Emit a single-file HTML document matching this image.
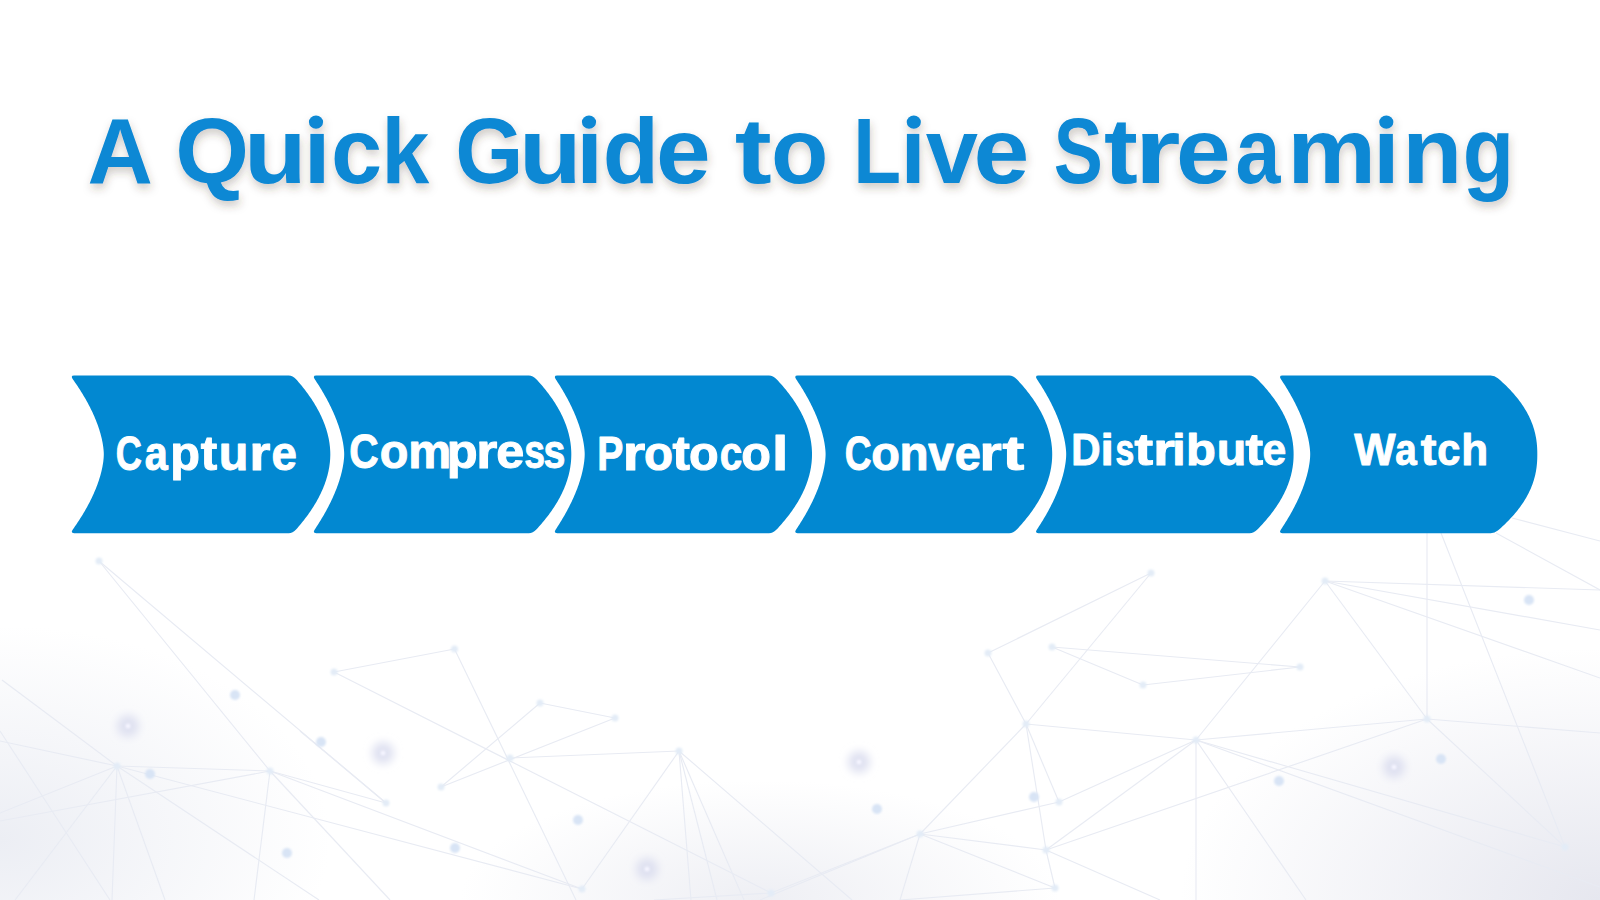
<!DOCTYPE html>
<html><head><meta charset="utf-8"><style>
html,body{margin:0;padding:0;width:1600px;height:900px;overflow:hidden;background:#fff}
svg{display:block}
</style></head><body>
<svg width="1600" height="900" viewBox="0 0 1600 900">
<defs>
<radialGradient id="g1" cx="0" cy="840" r="330" gradientUnits="userSpaceOnUse" gradientTransform="translate(0,840) scale(1,0.65) translate(0,-840)">
<stop offset="0" stop-color="#eceef4"/><stop offset="1" stop-color="#eceef4" stop-opacity="0"/></radialGradient>
<radialGradient id="g2" cx="1600" cy="900" r="420" gradientUnits="userSpaceOnUse" gradientTransform="translate(1600,900) scale(1,0.6) translate(-1600,-900)">
<stop offset="0" stop-color="#e6e7ef"/><stop offset="1" stop-color="#e6e7ef" stop-opacity="0"/></radialGradient>
<radialGradient id="g3" cx="760" cy="900" r="300" gradientUnits="userSpaceOnUse" gradientTransform="translate(760,900) scale(1,0.4) translate(-760,-900)">
<stop offset="0" stop-color="#eeeff4"/><stop offset="1" stop-color="#eeeff4" stop-opacity="0"/></radialGradient>
<filter id="blur4" x="-50%" y="-50%" width="200%" height="200%"><feGaussianBlur stdDeviation="4"/></filter>
<filter id="blur1" x="-50%" y="-50%" width="200%" height="200%"><feGaussianBlur stdDeviation="1.2"/></filter>
<filter id="tsh" x="-5%" y="-20%" width="110%" height="150%">
<feGaussianBlur in="SourceAlpha" stdDeviation="4"/><feOffset dx="1" dy="5" result="o"/>
<feFlood flood-color="#4a3a2a" flood-opacity="0.26"/><feComposite in2="o" operator="in" result="s"/>
<feMerge><feMergeNode in="s"/><feMergeNode in="SourceGraphic"/></feMerge></filter>
</defs>
<rect width="1600" height="900" fill="#fff"/>
<rect width="1600" height="900" fill="url(#g1)"/>
<rect width="1600" height="900" fill="url(#g2)"/>
<rect width="1600" height="900" fill="url(#g3)"/>
<g stroke="#e8ebf3" stroke-width="1.15" fill="none">
<line x1="99" y1="561" x2="270" y2="771"/><line x1="117" y1="766" x2="319" y2="900"/><line x1="117" y1="766" x2="582" y2="889"/><line x1="270" y1="771" x2="582" y2="889"/><line x1="270" y1="771" x2="390" y2="900"/><line x1="99" y1="561" x2="386" y2="803"/><line x1="2" y1="680" x2="117" y2="766"/><line x1="0" y1="741" x2="117" y2="766"/><line x1="117" y1="766" x2="0" y2="813"/><line x1="117" y1="766" x2="15" y2="900"/><line x1="117" y1="766" x2="112" y2="900"/><line x1="117" y1="766" x2="165" y2="900"/><line x1="117" y1="766" x2="270" y2="771"/><line x1="0" y1="731" x2="110" y2="900"/><line x1="0" y1="821" x2="270" y2="771"/><line x1="270" y1="771" x2="254" y2="900"/><line x1="270" y1="771" x2="386" y2="803"/><line x1="334" y1="672" x2="454.5" y2="649"/><line x1="334" y1="672" x2="771" y2="893"/><line x1="454.5" y1="649" x2="576" y2="900"/><line x1="540" y1="703" x2="615" y2="718"/><line x1="540" y1="703" x2="441" y2="787"/><line x1="615" y1="718" x2="441" y2="787"/><line x1="510" y1="758" x2="679" y2="751"/><line x1="679" y1="751" x2="582" y2="889"/><line x1="679" y1="751" x2="691" y2="900"/><line x1="679" y1="751" x2="717" y2="900"/><line x1="679" y1="751" x2="744" y2="900"/><line x1="679" y1="751" x2="852" y2="900"/><line x1="300" y1="731" x2="386" y2="803"/><line x1="1151" y1="573" x2="988" y2="653"/><line x1="1151" y1="573" x2="1026" y2="724"/><line x1="1026" y1="724" x2="920" y2="834"/><line x1="988" y1="653" x2="1026" y2="724"/><line x1="1052" y1="647" x2="1300" y2="667"/><line x1="1052" y1="647" x2="1143" y2="685"/><line x1="1143" y1="685" x2="1300" y2="667"/><line x1="1026" y1="724" x2="1196" y2="740"/><line x1="1026" y1="724" x2="1059" y2="802"/><line x1="1026" y1="724" x2="1046" y2="850"/><line x1="1196" y1="740" x2="1325" y2="581"/><line x1="1196" y1="740" x2="1196" y2="900"/><line x1="1196" y1="740" x2="1059" y2="802"/><line x1="1196" y1="740" x2="1046" y2="850"/><line x1="920" y1="834" x2="1046" y2="850"/><line x1="920" y1="834" x2="1059" y2="802"/><line x1="920" y1="834" x2="760" y2="900"/><line x1="920" y1="834" x2="900" y2="900"/><line x1="920" y1="834" x2="771" y2="893"/><line x1="1046" y1="850" x2="1427" y2="719"/><line x1="1046" y1="850" x2="1055" y2="888"/><line x1="1046" y1="850" x2="1160" y2="900"/><line x1="920" y1="834" x2="1055" y2="888"/><line x1="900" y1="900" x2="1055" y2="888"/><line x1="654" y1="900" x2="771" y2="893"/><line x1="1325" y1="581" x2="1427" y2="719"/><line x1="1325" y1="581" x2="1600" y2="590"/><line x1="1325" y1="581" x2="1600" y2="630"/><line x1="1325" y1="581" x2="1600" y2="678"/><line x1="1427" y1="719" x2="1427" y2="525"/><line x1="1441" y1="533" x2="1565" y2="847"/><line x1="1427" y1="719" x2="1565" y2="847"/><line x1="1427" y1="719" x2="1600" y2="733"/><line x1="1427" y1="719" x2="1196" y2="740"/><line x1="1196" y1="740" x2="1565" y2="847"/><line x1="1196" y1="740" x2="1600" y2="887"/><line x1="1196" y1="740" x2="1306" y2="900"/><line x1="1496" y1="533" x2="1600" y2="590"/><line x1="1512" y1="518" x2="1600" y2="541"/>
</g>
<g fill="#e3ecf7" filter="url(#blur1)"><circle cx="99" cy="561" r="3.5"/><circle cx="117" cy="766" r="3.5"/><circle cx="270" cy="771" r="3.5"/><circle cx="386" cy="803" r="3.5"/><circle cx="334" cy="672" r="3.5"/><circle cx="454.5" cy="649" r="3.5"/><circle cx="540" cy="703" r="3.5"/><circle cx="615" cy="718" r="3.5"/><circle cx="510" cy="758" r="3.5"/><circle cx="441" cy="787" r="3.5"/><circle cx="679" cy="751" r="3.5"/><circle cx="582" cy="889" r="3.5"/><circle cx="771" cy="893" r="3.5"/><circle cx="1151" cy="573" r="3.5"/><circle cx="988" cy="653" r="3.5"/><circle cx="1052" cy="647" r="3.5"/><circle cx="1143" cy="685" r="3.5"/><circle cx="1026" cy="724" r="3.5"/><circle cx="1196" cy="740" r="3.5"/><circle cx="1059" cy="802" r="3.5"/><circle cx="920" cy="834" r="3.5"/><circle cx="1046" cy="850" r="3.5"/><circle cx="1055" cy="888" r="3.5"/><circle cx="1325" cy="581" r="3.5"/><circle cx="1300" cy="667" r="3.5"/><circle cx="1427" cy="719" r="3.5"/><circle cx="1565" cy="847" r="3.5"/></g>
<g fill="#d8e4f5" filter="url(#blur1)"><circle cx="235" cy="695" r="5"/><circle cx="321" cy="742" r="5"/><circle cx="150" cy="774" r="5"/><circle cx="578" cy="820" r="5"/><circle cx="287" cy="853" r="5"/><circle cx="455" cy="848" r="5"/><circle cx="877" cy="809" r="5"/><circle cx="1034" cy="797" r="5"/><circle cx="1279" cy="781" r="5"/><circle cx="1441" cy="759" r="5"/><circle cx="1529" cy="600" r="5"/></g>
<g fill="#dcdeef" fill-opacity="0.9" filter="url(#blur4)"><circle cx="128" cy="726" r="11"/><circle cx="383" cy="753" r="11"/><circle cx="859" cy="762" r="11"/><circle cx="647" cy="869" r="11"/><circle cx="1394" cy="767" r="11"/></g>
<g fill="#f4f4ff" filter="url(#blur1)"><circle cx="128" cy="726" r="2.5"/><circle cx="383" cy="753" r="2.5"/><circle cx="859" cy="762" r="2.5"/><circle cx="647" cy="869" r="2.5"/><circle cx="1394" cy="767" r="2.5"/></g>
<g fill="#0288d1">
<path d="M74.10,375.5 L288.70,375.5 Q292.70,375.5 296.31,379.48 L297.47,380.80 298.62,382.13 299.74,383.45 300.84,384.78 301.93,386.10 302.99,387.43 304.04,388.75 305.06,390.08 306.07,391.40 307.05,392.73 308.02,394.05 308.96,395.38 309.89,396.70 310.79,398.03 311.68,399.35 312.54,400.68 313.39,402.00 314.21,403.33 315.02,404.65 315.80,405.98 316.57,407.31 317.31,408.63 318.03,409.96 318.74,411.28 319.42,412.61 320.08,413.93 320.73,415.26 321.35,416.58 321.95,417.91 322.53,419.23 323.10,420.56 323.64,421.88 324.16,423.21 324.66,424.53 325.13,425.86 325.59,427.18 326.03,428.51 326.45,429.83 326.84,431.16 327.22,432.48 327.57,433.81 327.90,435.13 328.22,436.46 328.51,437.78 328.78,439.11 329.02,440.44 329.25,441.76 329.45,443.09 329.64,444.41 329.80,445.74 329.94,447.06 330.06,448.39 330.15,449.71 330.22,451.04 330.27,452.36 330.30,453.69 330.30,455.01 330.27,456.34 330.22,457.66 330.15,458.99 330.06,460.31 329.94,461.64 329.80,462.96 329.64,464.29 329.45,465.61 329.25,466.94 329.02,468.26 328.78,469.59 328.51,470.92 328.22,472.24 327.90,473.57 327.57,474.89 327.22,476.22 326.84,477.54 326.45,478.87 326.03,480.19 325.59,481.52 325.13,482.84 324.66,484.17 324.16,485.49 323.64,486.82 323.10,488.14 322.53,489.47 321.95,490.79 321.35,492.12 320.73,493.44 320.08,494.77 319.42,496.09 318.74,497.42 318.03,498.74 317.31,500.07 316.57,501.39 315.80,502.72 315.02,504.05 314.21,505.37 313.39,506.70 312.54,508.02 311.68,509.35 310.79,510.67 309.89,512.00 308.96,513.32 308.02,514.65 307.05,515.97 306.07,517.30 305.06,518.62 304.04,519.95 302.99,521.27 301.93,522.60 300.84,523.92 299.74,525.25 298.62,526.57 297.47,527.90 296.31,529.22 Q292.70,533.2 288.70,533.2 L74.10,533.2 Q70.10,533.2 72.99,529.22 L73.92,527.90 74.85,526.57 75.76,525.25 76.66,523.92 77.55,522.60 78.42,521.27 79.29,519.95 80.14,518.62 80.98,517.30 81.80,515.97 82.61,514.65 83.41,513.32 84.20,512.00 84.97,510.67 85.73,509.35 86.48,508.02 87.21,506.70 87.93,505.37 88.64,504.05 89.33,502.72 90.01,501.39 90.67,500.07 91.32,498.74 91.96,497.42 92.59,496.09 93.19,494.77 93.79,493.44 94.37,492.12 94.93,490.79 95.48,489.47 96.02,488.14 96.54,486.82 97.04,485.49 97.53,484.17 98.01,482.84 98.47,481.52 98.91,480.19 99.33,478.87 99.74,477.54 100.14,476.22 100.51,474.89 100.87,473.57 101.21,472.24 101.53,470.92 101.84,469.59 102.12,468.26 102.39,466.94 102.64,465.61 102.86,464.29 103.07,462.96 103.25,461.64 103.41,460.31 103.55,458.99 103.66,457.66 103.74,456.34 103.79,455.01 103.79,453.69 103.74,452.36 103.66,451.04 103.55,449.71 103.41,448.39 103.25,447.06 103.07,445.74 102.86,444.41 102.64,443.09 102.39,441.76 102.12,440.44 101.84,439.11 101.53,437.78 101.21,436.46 100.87,435.13 100.51,433.81 100.14,432.48 99.74,431.16 99.33,429.83 98.91,428.51 98.47,427.18 98.01,425.86 97.53,424.53 97.04,423.21 96.54,421.88 96.02,420.56 95.48,419.23 94.93,417.91 94.37,416.58 93.79,415.26 93.19,413.93 92.59,412.61 91.96,411.28 91.32,409.96 90.67,408.63 90.01,407.31 89.33,405.98 88.64,404.65 87.93,403.33 87.21,402.00 86.48,400.68 85.73,399.35 84.97,398.03 84.20,396.70 83.41,395.38 82.61,394.05 81.80,392.73 80.98,391.40 80.14,390.08 79.29,388.75 78.42,387.43 77.55,386.10 76.66,384.78 75.76,383.45 74.85,382.13 73.92,380.80 72.99,379.48 Q70.10,375.5 74.10,375.5 Z"/>
<path d="M316.20,375.5 L528.80,375.5 Q532.80,375.5 536.58,379.48 L537.80,380.80 539.00,382.13 540.17,383.45 541.33,384.78 542.46,386.10 543.57,387.43 544.65,388.75 545.72,390.08 546.76,391.40 547.79,392.73 548.79,394.05 549.76,395.38 550.72,396.70 551.66,398.03 552.57,399.35 553.46,400.68 554.33,402.00 555.18,403.33 556.01,404.65 556.81,405.98 557.59,407.31 558.36,408.63 559.10,409.96 559.81,411.28 560.51,412.61 561.18,413.93 561.84,415.26 562.47,416.58 563.08,417.91 563.66,419.23 564.23,420.56 564.77,421.88 565.29,423.21 565.79,424.53 566.27,425.86 566.73,427.18 567.16,428.51 567.58,429.83 567.97,431.16 568.34,432.48 568.69,433.81 569.01,435.13 569.32,436.46 569.60,437.78 569.86,439.11 570.10,440.44 570.32,441.76 570.51,443.09 570.69,444.41 570.84,445.74 570.97,447.06 571.08,448.39 571.17,449.71 571.23,451.04 571.28,452.36 571.30,453.69 571.30,455.01 571.28,456.34 571.23,457.66 571.17,458.99 571.08,460.31 570.97,461.64 570.84,462.96 570.69,464.29 570.51,465.61 570.32,466.94 570.10,468.26 569.86,469.59 569.60,470.92 569.32,472.24 569.01,473.57 568.69,474.89 568.34,476.22 567.97,477.54 567.58,478.87 567.16,480.19 566.73,481.52 566.27,482.84 565.79,484.17 565.29,485.49 564.77,486.82 564.23,488.14 563.66,489.47 563.08,490.79 562.47,492.12 561.84,493.44 561.18,494.77 560.51,496.09 559.81,497.42 559.10,498.74 558.36,500.07 557.59,501.39 556.81,502.72 556.01,504.05 555.18,505.37 554.33,506.70 553.46,508.02 552.57,509.35 551.66,510.67 550.72,512.00 549.76,513.32 548.79,514.65 547.79,515.97 546.76,517.30 545.72,518.62 544.65,519.95 543.57,521.27 542.46,522.60 541.33,523.92 540.17,525.25 539.00,526.57 537.80,527.90 536.58,529.22 Q532.80,533.2 528.80,533.2 L316.20,533.2 Q312.20,533.2 314.91,529.22 L315.79,527.90 316.66,526.57 317.52,525.25 318.37,523.92 319.20,522.60 320.03,521.27 320.84,519.95 321.64,518.62 322.43,517.30 323.21,515.97 323.97,514.65 324.73,513.32 325.47,512.00 326.20,510.67 326.92,509.35 327.62,508.02 328.32,506.70 329.00,505.37 329.67,504.05 330.32,502.72 330.97,501.39 331.60,500.07 332.22,498.74 332.82,497.42 333.41,496.09 333.99,494.77 334.56,493.44 335.11,492.12 335.65,490.79 336.17,489.47 336.69,488.14 337.18,486.82 337.66,485.49 338.13,484.17 338.59,482.84 339.03,481.52 339.45,480.19 339.86,478.87 340.25,477.54 340.63,476.22 340.99,474.89 341.34,473.57 341.67,472.24 341.98,470.92 342.27,469.59 342.55,468.26 342.81,466.94 343.05,465.61 343.27,464.29 343.47,462.96 343.65,461.64 343.81,460.31 343.95,458.99 344.06,457.66 344.14,456.34 344.19,455.01 344.19,453.69 344.14,452.36 344.06,451.04 343.95,449.71 343.81,448.39 343.65,447.06 343.47,445.74 343.27,444.41 343.05,443.09 342.81,441.76 342.55,440.44 342.27,439.11 341.98,437.78 341.67,436.46 341.34,435.13 340.99,433.81 340.63,432.48 340.25,431.16 339.86,429.83 339.45,428.51 339.03,427.18 338.59,425.86 338.13,424.53 337.66,423.21 337.18,421.88 336.69,420.56 336.17,419.23 335.65,417.91 335.11,416.58 334.56,415.26 333.99,413.93 333.41,412.61 332.82,411.28 332.22,409.96 331.60,408.63 330.97,407.31 330.32,405.98 329.67,404.65 329.00,403.33 328.32,402.00 327.62,400.68 326.92,399.35 326.20,398.03 325.47,396.70 324.73,395.38 323.97,394.05 323.21,392.73 322.43,391.40 321.64,390.08 320.84,388.75 320.03,387.43 319.20,386.10 318.37,384.78 317.52,383.45 316.66,382.13 315.79,380.80 314.91,379.48 Q312.20,375.5 316.20,375.5 Z"/>
<path d="M557.20,375.5 L769.00,375.5 Q773.00,375.5 776.83,379.48 L778.07,380.80 779.28,382.13 780.47,383.45 781.64,384.78 782.78,386.10 783.91,387.43 785.01,388.75 786.09,390.08 787.14,391.40 788.18,392.73 789.19,394.05 790.19,395.38 791.15,396.70 792.10,398.03 793.03,399.35 793.93,400.68 794.81,402.00 795.67,403.33 796.51,404.65 797.32,405.98 798.12,407.31 798.89,408.63 799.64,409.96 800.36,411.28 801.07,412.61 801.75,413.93 802.41,415.26 803.05,416.58 803.67,417.91 804.26,419.23 804.84,420.56 805.39,421.88 805.92,423.21 806.42,424.53 806.91,425.86 807.37,427.18 807.81,428.51 808.23,429.83 808.63,431.16 809.00,432.48 809.35,433.81 809.68,435.13 809.99,436.46 810.28,437.78 810.54,439.11 810.79,440.44 811.01,441.76 811.20,443.09 811.38,444.41 811.53,445.74 811.67,447.06 811.78,448.39 811.87,449.71 811.93,451.04 811.98,452.36 812.00,453.69 812.00,455.01 811.98,456.34 811.93,457.66 811.87,458.99 811.78,460.31 811.67,461.64 811.53,462.96 811.38,464.29 811.20,465.61 811.01,466.94 810.79,468.26 810.54,469.59 810.28,470.92 809.99,472.24 809.68,473.57 809.35,474.89 809.00,476.22 808.63,477.54 808.23,478.87 807.81,480.19 807.37,481.52 806.91,482.84 806.42,484.17 805.92,485.49 805.39,486.82 804.84,488.14 804.26,489.47 803.67,490.79 803.05,492.12 802.41,493.44 801.75,494.77 801.07,496.09 800.36,497.42 799.64,498.74 798.89,500.07 798.12,501.39 797.32,502.72 796.51,504.05 795.67,505.37 794.81,506.70 793.93,508.02 793.03,509.35 792.10,510.67 791.15,512.00 790.19,513.32 789.19,514.65 788.18,515.97 787.14,517.30 786.09,518.62 785.01,519.95 783.91,521.27 782.78,522.60 781.64,523.92 780.47,525.25 779.28,526.57 778.07,527.90 776.83,529.22 Q773.00,533.2 769.00,533.2 L557.20,533.2 Q553.20,533.2 555.88,529.22 L556.75,527.90 557.61,526.57 558.46,525.25 559.30,523.92 560.13,522.60 560.94,521.27 561.75,519.95 562.54,518.62 563.32,517.30 564.09,515.97 564.84,514.65 565.59,513.32 566.32,512.00 567.04,510.67 567.75,509.35 568.45,508.02 569.13,506.70 569.80,505.37 570.46,504.05 571.11,502.72 571.74,501.39 572.36,500.07 572.97,498.74 573.57,497.42 574.15,496.09 574.72,494.77 575.28,493.44 575.82,492.12 576.35,490.79 576.86,489.47 577.37,488.14 577.85,486.82 578.33,485.49 578.79,484.17 579.23,482.84 579.66,481.52 580.08,480.19 580.48,478.87 580.86,477.54 581.23,476.22 581.58,474.89 581.92,473.57 582.24,472.24 582.55,470.92 582.84,469.59 583.11,468.26 583.36,466.94 583.59,465.61 583.81,464.29 584.00,462.96 584.18,461.64 584.33,460.31 584.46,458.99 584.56,457.66 584.64,456.34 584.69,455.01 584.69,453.69 584.64,452.36 584.56,451.04 584.46,449.71 584.33,448.39 584.18,447.06 584.00,445.74 583.81,444.41 583.59,443.09 583.36,441.76 583.11,440.44 582.84,439.11 582.55,437.78 582.24,436.46 581.92,435.13 581.58,433.81 581.23,432.48 580.86,431.16 580.48,429.83 580.08,428.51 579.66,427.18 579.23,425.86 578.79,424.53 578.33,423.21 577.85,421.88 577.37,420.56 576.86,419.23 576.35,417.91 575.82,416.58 575.28,415.26 574.72,413.93 574.15,412.61 573.57,411.28 572.97,409.96 572.36,408.63 571.74,407.31 571.11,405.98 570.46,404.65 569.80,403.33 569.13,402.00 568.45,400.68 567.75,399.35 567.04,398.03 566.32,396.70 565.59,395.38 564.84,394.05 564.09,392.73 563.32,391.40 562.54,390.08 561.75,388.75 560.94,387.43 560.13,386.10 559.30,384.78 558.46,383.45 557.61,382.13 556.75,380.80 555.88,379.48 Q553.20,375.5 557.20,375.5 Z"/>
<path d="M797.60,375.5 L1009.20,375.5 Q1013.20,375.5 1017.03,379.48 L1018.27,380.80 1019.48,382.13 1020.67,383.45 1021.84,384.78 1022.98,386.10 1024.11,387.43 1025.21,388.75 1026.29,390.08 1027.34,391.40 1028.38,392.73 1029.39,394.05 1030.39,395.38 1031.35,396.70 1032.30,398.03 1033.23,399.35 1034.13,400.68 1035.01,402.00 1035.87,403.33 1036.71,404.65 1037.52,405.98 1038.32,407.31 1039.09,408.63 1039.84,409.96 1040.56,411.28 1041.27,412.61 1041.95,413.93 1042.61,415.26 1043.25,416.58 1043.87,417.91 1044.46,419.23 1045.04,420.56 1045.59,421.88 1046.12,423.21 1046.62,424.53 1047.11,425.86 1047.57,427.18 1048.01,428.51 1048.43,429.83 1048.83,431.16 1049.20,432.48 1049.55,433.81 1049.88,435.13 1050.19,436.46 1050.48,437.78 1050.74,439.11 1050.99,440.44 1051.21,441.76 1051.40,443.09 1051.58,444.41 1051.73,445.74 1051.87,447.06 1051.98,448.39 1052.07,449.71 1052.13,451.04 1052.18,452.36 1052.20,453.69 1052.20,455.01 1052.18,456.34 1052.13,457.66 1052.07,458.99 1051.98,460.31 1051.87,461.64 1051.73,462.96 1051.58,464.29 1051.40,465.61 1051.21,466.94 1050.99,468.26 1050.74,469.59 1050.48,470.92 1050.19,472.24 1049.88,473.57 1049.55,474.89 1049.20,476.22 1048.83,477.54 1048.43,478.87 1048.01,480.19 1047.57,481.52 1047.11,482.84 1046.62,484.17 1046.12,485.49 1045.59,486.82 1045.04,488.14 1044.46,489.47 1043.87,490.79 1043.25,492.12 1042.61,493.44 1041.95,494.77 1041.27,496.09 1040.56,497.42 1039.84,498.74 1039.09,500.07 1038.32,501.39 1037.52,502.72 1036.71,504.05 1035.87,505.37 1035.01,506.70 1034.13,508.02 1033.23,509.35 1032.30,510.67 1031.35,512.00 1030.39,513.32 1029.39,514.65 1028.38,515.97 1027.34,517.30 1026.29,518.62 1025.21,519.95 1024.11,521.27 1022.98,522.60 1021.84,523.92 1020.67,525.25 1019.48,526.57 1018.27,527.90 1017.03,529.22 Q1013.20,533.2 1009.20,533.2 L797.60,533.2 Q793.60,533.2 796.32,529.22 L797.21,527.90 798.08,526.57 798.95,525.25 799.80,523.92 800.64,522.60 801.47,521.27 802.28,519.95 803.09,518.62 803.88,517.30 804.66,515.97 805.43,514.65 806.18,513.32 806.93,512.00 807.66,510.67 808.38,509.35 809.09,508.02 809.78,506.70 810.47,505.37 811.14,504.05 811.79,502.72 812.44,501.39 813.07,500.07 813.69,498.74 814.29,497.42 814.88,496.09 815.46,494.77 816.03,493.44 816.58,492.12 817.12,490.79 817.64,489.47 818.15,488.14 818.64,486.82 819.13,485.49 819.59,484.17 820.04,482.84 820.48,481.52 820.90,480.19 821.31,478.87 821.70,477.54 822.08,476.22 822.44,474.89 822.78,473.57 823.10,472.24 823.41,470.92 823.71,469.59 823.98,468.26 824.24,466.94 824.47,465.61 824.69,464.29 824.89,462.96 825.07,461.64 825.22,460.31 825.36,458.99 825.46,457.66 825.54,456.34 825.59,455.01 825.59,453.69 825.54,452.36 825.46,451.04 825.36,449.71 825.22,448.39 825.07,447.06 824.89,445.74 824.69,444.41 824.47,443.09 824.24,441.76 823.98,440.44 823.71,439.11 823.41,437.78 823.10,436.46 822.78,435.13 822.44,433.81 822.08,432.48 821.70,431.16 821.31,429.83 820.90,428.51 820.48,427.18 820.04,425.86 819.59,424.53 819.13,423.21 818.64,421.88 818.15,420.56 817.64,419.23 817.12,417.91 816.58,416.58 816.03,415.26 815.46,413.93 814.88,412.61 814.29,411.28 813.69,409.96 813.07,408.63 812.44,407.31 811.79,405.98 811.14,404.65 810.47,403.33 809.78,402.00 809.09,400.68 808.38,399.35 807.66,398.03 806.93,396.70 806.18,395.38 805.43,394.05 804.66,392.73 803.88,391.40 803.09,390.08 802.28,388.75 801.47,387.43 800.64,386.10 799.80,384.78 798.95,383.45 798.08,382.13 797.21,380.80 796.32,379.48 Q793.60,375.5 797.60,375.5 Z"/>
<path d="M1038.40,375.5 L1249.60,375.5 Q1253.60,375.5 1257.63,379.48 L1258.92,380.80 1260.19,382.13 1261.43,383.45 1262.65,384.78 1263.85,386.10 1265.02,387.43 1266.17,388.75 1267.29,390.08 1268.39,391.40 1269.47,392.73 1270.52,394.05 1271.55,395.38 1272.55,396.70 1273.53,398.03 1274.49,399.35 1275.42,400.68 1276.33,402.00 1277.21,403.33 1278.07,404.65 1278.91,405.98 1279.72,407.31 1280.51,408.63 1281.28,409.96 1282.02,411.28 1282.74,412.61 1283.43,413.93 1284.11,415.26 1284.75,416.58 1285.38,417.91 1285.98,419.23 1286.56,420.56 1287.11,421.88 1287.64,423.21 1288.15,424.53 1288.64,425.86 1289.10,427.18 1289.54,428.51 1289.95,429.83 1290.35,431.16 1290.72,432.48 1291.06,433.81 1291.39,435.13 1291.69,436.46 1291.97,437.78 1292.22,439.11 1292.46,440.44 1292.67,441.76 1292.86,443.09 1293.03,444.41 1293.17,445.74 1293.30,447.06 1293.40,448.39 1293.48,449.71 1293.54,451.04 1293.58,452.36 1293.60,453.69 1293.60,455.01 1293.58,456.34 1293.54,457.66 1293.48,458.99 1293.40,460.31 1293.30,461.64 1293.17,462.96 1293.03,464.29 1292.86,465.61 1292.67,466.94 1292.46,468.26 1292.22,469.59 1291.97,470.92 1291.69,472.24 1291.39,473.57 1291.06,474.89 1290.72,476.22 1290.35,477.54 1289.95,478.87 1289.54,480.19 1289.10,481.52 1288.64,482.84 1288.15,484.17 1287.64,485.49 1287.11,486.82 1286.56,488.14 1285.98,489.47 1285.38,490.79 1284.75,492.12 1284.11,493.44 1283.43,494.77 1282.74,496.09 1282.02,497.42 1281.28,498.74 1280.51,500.07 1279.72,501.39 1278.91,502.72 1278.07,504.05 1277.21,505.37 1276.33,506.70 1275.42,508.02 1274.49,509.35 1273.53,510.67 1272.55,512.00 1271.55,513.32 1270.52,514.65 1269.47,515.97 1268.39,517.30 1267.29,518.62 1266.17,519.95 1265.02,521.27 1263.85,522.60 1262.65,523.92 1261.43,525.25 1260.19,526.57 1258.92,527.90 1257.63,529.22 Q1253.60,533.2 1249.60,533.2 L1038.40,533.2 Q1034.40,533.2 1037.11,529.22 L1037.99,527.90 1038.86,526.57 1039.71,525.25 1040.56,523.92 1041.39,522.60 1042.22,521.27 1043.03,519.95 1043.83,518.62 1044.61,517.30 1045.39,515.97 1046.15,514.65 1046.91,513.32 1047.65,512.00 1048.37,510.67 1049.09,509.35 1049.79,508.02 1050.48,506.70 1051.16,505.37 1051.83,504.05 1052.48,502.72 1053.12,501.39 1053.75,500.07 1054.36,498.74 1054.96,497.42 1055.55,496.09 1056.12,494.77 1056.69,493.44 1057.23,492.12 1057.77,490.79 1058.29,489.47 1058.80,488.14 1059.29,486.82 1059.77,485.49 1060.23,484.17 1060.68,482.84 1061.11,481.52 1061.53,480.19 1061.94,478.87 1062.32,477.54 1062.70,476.22 1063.05,474.89 1063.40,473.57 1063.72,472.24 1064.03,470.92 1064.32,469.59 1064.59,468.26 1064.84,466.94 1065.08,465.61 1065.30,464.29 1065.49,462.96 1065.67,461.64 1065.83,460.31 1065.96,458.99 1066.06,457.66 1066.14,456.34 1066.19,455.01 1066.19,453.69 1066.14,452.36 1066.06,451.04 1065.96,449.71 1065.83,448.39 1065.67,447.06 1065.49,445.74 1065.30,444.41 1065.08,443.09 1064.84,441.76 1064.59,440.44 1064.32,439.11 1064.03,437.78 1063.72,436.46 1063.40,435.13 1063.05,433.81 1062.70,432.48 1062.32,431.16 1061.94,429.83 1061.53,428.51 1061.11,427.18 1060.68,425.86 1060.23,424.53 1059.77,423.21 1059.29,421.88 1058.80,420.56 1058.29,419.23 1057.77,417.91 1057.23,416.58 1056.69,415.26 1056.12,413.93 1055.55,412.61 1054.96,411.28 1054.36,409.96 1053.75,408.63 1053.12,407.31 1052.48,405.98 1051.83,404.65 1051.16,403.33 1050.48,402.00 1049.79,400.68 1049.09,399.35 1048.37,398.03 1047.65,396.70 1046.91,395.38 1046.15,394.05 1045.39,392.73 1044.61,391.40 1043.83,390.08 1043.03,388.75 1042.22,387.43 1041.39,386.10 1040.56,384.78 1039.71,383.45 1038.86,382.13 1037.99,380.80 1037.11,379.48 Q1034.40,375.5 1038.40,375.5 Z"/>
<path d="M1282.40,375.5 L1490.70,375.5 Q1494.70,375.5 1497.84,378.15 L1499.36,379.48 1500.85,380.80 1502.30,382.13 1503.73,383.45 1505.12,384.78 1506.47,386.10 1507.80,387.43 1509.09,388.75 1510.35,390.08 1511.58,391.40 1512.78,392.73 1513.94,394.05 1515.08,395.38 1516.18,396.70 1517.25,398.03 1518.29,399.35 1519.30,400.68 1520.28,402.00 1521.23,403.33 1522.15,404.65 1523.04,405.98 1523.90,407.31 1524.73,408.63 1525.53,409.96 1526.31,411.28 1527.05,412.61 1527.76,413.93 1528.45,415.26 1529.11,416.58 1529.74,417.91 1530.34,419.23 1530.92,420.56 1531.46,421.88 1531.98,423.21 1532.48,424.53 1532.94,425.86 1533.38,427.18 1533.80,428.51 1534.19,429.83 1534.55,431.16 1534.89,432.48 1535.21,433.81 1535.50,435.13 1535.76,436.46 1536.01,437.78 1536.23,439.11 1536.43,440.44 1536.60,441.76 1536.76,443.09 1536.89,444.41 1537.00,445.74 1537.09,447.06 1537.17,448.39 1537.23,449.71 1537.26,451.04 1537.29,452.36 1537.30,453.69 1537.30,455.01 1537.29,456.34 1537.26,457.66 1537.23,458.99 1537.17,460.31 1537.09,461.64 1537.00,462.96 1536.89,464.29 1536.76,465.61 1536.60,466.94 1536.43,468.26 1536.23,469.59 1536.01,470.92 1535.76,472.24 1535.50,473.57 1535.21,474.89 1534.89,476.22 1534.55,477.54 1534.19,478.87 1533.80,480.19 1533.38,481.52 1532.94,482.84 1532.48,484.17 1531.98,485.49 1531.46,486.82 1530.92,488.14 1530.34,489.47 1529.74,490.79 1529.11,492.12 1528.45,493.44 1527.76,494.77 1527.05,496.09 1526.31,497.42 1525.53,498.74 1524.73,500.07 1523.90,501.39 1523.04,502.72 1522.15,504.05 1521.23,505.37 1520.28,506.70 1519.30,508.02 1518.29,509.35 1517.25,510.67 1516.18,512.00 1515.08,513.32 1513.94,514.65 1512.78,515.97 1511.58,517.30 1510.35,518.62 1509.09,519.95 1507.80,521.27 1506.47,522.60 1505.12,523.92 1503.73,525.25 1502.30,526.57 1500.85,527.90 1499.36,529.22 1497.84,530.55 Q1494.70,533.2 1490.70,533.2 L1282.40,533.2 Q1278.40,533.2 1281.11,529.22 L1281.99,527.90 1282.86,526.57 1283.71,525.25 1284.56,523.92 1285.39,522.60 1286.22,521.27 1287.03,519.95 1287.83,518.62 1288.61,517.30 1289.39,515.97 1290.15,514.65 1290.91,513.32 1291.65,512.00 1292.37,510.67 1293.09,509.35 1293.79,508.02 1294.48,506.70 1295.16,505.37 1295.83,504.05 1296.48,502.72 1297.12,501.39 1297.75,500.07 1298.36,498.74 1298.96,497.42 1299.55,496.09 1300.12,494.77 1300.69,493.44 1301.23,492.12 1301.77,490.79 1302.29,489.47 1302.80,488.14 1303.29,486.82 1303.77,485.49 1304.23,484.17 1304.68,482.84 1305.11,481.52 1305.53,480.19 1305.94,478.87 1306.32,477.54 1306.70,476.22 1307.05,474.89 1307.40,473.57 1307.72,472.24 1308.03,470.92 1308.32,469.59 1308.59,468.26 1308.84,466.94 1309.08,465.61 1309.30,464.29 1309.49,462.96 1309.67,461.64 1309.83,460.31 1309.96,458.99 1310.06,457.66 1310.14,456.34 1310.19,455.01 1310.19,453.69 1310.14,452.36 1310.06,451.04 1309.96,449.71 1309.83,448.39 1309.67,447.06 1309.49,445.74 1309.30,444.41 1309.08,443.09 1308.84,441.76 1308.59,440.44 1308.32,439.11 1308.03,437.78 1307.72,436.46 1307.40,435.13 1307.05,433.81 1306.70,432.48 1306.32,431.16 1305.94,429.83 1305.53,428.51 1305.11,427.18 1304.68,425.86 1304.23,424.53 1303.77,423.21 1303.29,421.88 1302.80,420.56 1302.29,419.23 1301.77,417.91 1301.23,416.58 1300.69,415.26 1300.12,413.93 1299.55,412.61 1298.96,411.28 1298.36,409.96 1297.75,408.63 1297.12,407.31 1296.48,405.98 1295.83,404.65 1295.16,403.33 1294.48,402.00 1293.79,400.68 1293.09,399.35 1292.37,398.03 1291.65,396.70 1290.91,395.38 1290.15,394.05 1289.39,392.73 1288.61,391.40 1287.83,390.08 1287.03,388.75 1286.22,387.43 1285.39,386.10 1284.56,384.78 1283.71,383.45 1282.86,382.13 1281.99,380.80 1281.11,379.48 Q1278.40,375.5 1282.40,375.5 Z"/>
</g>
<g fill="#fff" stroke="#fff" stroke-width="1.0" stroke-linejoin="round" font-family="Liberation Sans, sans-serif" font-weight="bold" font-size="47">
<text x="115.70" y="470.0" textLength="26.18" lengthAdjust="spacingAndGlyphs" font-size="47.5">C</text>
<text x="144.80" y="470.0" textLength="22.99" lengthAdjust="spacingAndGlyphs" font-size="47.5">a</text>
<text x="170.30" y="470.0" textLength="29.73" lengthAdjust="spacingAndGlyphs" font-size="47.5">p</text>
<text x="200.80" y="470.0" textLength="16.48" lengthAdjust="spacingAndGlyphs" font-size="47.5">t</text>
<text x="218.75" y="470.0" textLength="29.57" lengthAdjust="spacingAndGlyphs" font-size="47.5">u</text>
<text x="249.50" y="470.0" textLength="21.00" lengthAdjust="spacingAndGlyphs" font-size="47.5">r</text>
<text x="271.50" y="470.0" textLength="25.38" lengthAdjust="spacingAndGlyphs" font-size="47.5">e</text>
<text x="349.25" y="468.1" textLength="29.39" lengthAdjust="spacingAndGlyphs" font-size="47.5">C</text>
<text x="379.70" y="468.1" textLength="28.61" lengthAdjust="spacingAndGlyphs" font-size="47.5">o</text>
<text x="408.30" y="468.1" textLength="42.95" lengthAdjust="spacingAndGlyphs" font-size="47.5">m</text>
<text x="446.70" y="468.1" textLength="30.90" lengthAdjust="spacingAndGlyphs" font-size="47.5">p</text>
<text x="476.20" y="468.1" textLength="21.10" lengthAdjust="spacingAndGlyphs" font-size="47.5">r</text>
<text x="496.30" y="468.1" textLength="28.01" lengthAdjust="spacingAndGlyphs" font-size="47.5">e</text>
<text x="524.20" y="468.1" textLength="20.72" lengthAdjust="spacingAndGlyphs" font-size="47.5">s</text>
<text x="543.40" y="468.1" textLength="21.87" lengthAdjust="spacingAndGlyphs" font-size="47.5">s</text>
<text x="597.20" y="469.9" textLength="26.05" lengthAdjust="spacingAndGlyphs" font-size="47.5">P</text>
<text x="622.80" y="469.9" textLength="22.52" lengthAdjust="spacingAndGlyphs" font-size="47.5">r</text>
<text x="644.00" y="469.9" textLength="29.03" lengthAdjust="spacingAndGlyphs" font-size="47.5">o</text>
<text x="672.50" y="469.9" textLength="17.45" lengthAdjust="spacingAndGlyphs" font-size="47.5">t</text>
<text x="689.00" y="469.9" textLength="29.69" lengthAdjust="spacingAndGlyphs" font-size="47.5">o</text>
<text x="719.80" y="469.9" textLength="22.42" lengthAdjust="spacingAndGlyphs" font-size="47.5">c</text>
<text x="741.30" y="469.9" textLength="29.69" lengthAdjust="spacingAndGlyphs" font-size="47.5">o</text>
<text x="772.00" y="469.9" textLength="16.36" lengthAdjust="spacingAndGlyphs" font-size="47.5">l</text>
<text x="844.80" y="470.0" textLength="26.81" lengthAdjust="spacingAndGlyphs" font-size="47.5">C</text>
<text x="871.30" y="470.0" textLength="28.63" lengthAdjust="spacingAndGlyphs" font-size="47.5">o</text>
<text x="899.50" y="470.0" textLength="29.09" lengthAdjust="spacingAndGlyphs" font-size="47.5">n</text>
<text x="928.30" y="470.0" textLength="25.65" lengthAdjust="spacingAndGlyphs" font-size="47.5">v</text>
<text x="954.75" y="470.0" textLength="26.04" lengthAdjust="spacingAndGlyphs" font-size="47.5">e</text>
<text x="979.50" y="470.0" textLength="22.29" lengthAdjust="spacingAndGlyphs" font-size="47.5">r</text>
<text x="1002.50" y="470.0" textLength="21.78" lengthAdjust="spacingAndGlyphs" font-size="47.5">t</text>
<text x="1071.25" y="464.7" textLength="29.28" lengthAdjust="spacingAndGlyphs" font-size="44">D</text>
<text x="1100.60" y="464.7" textLength="13.30" lengthAdjust="spacingAndGlyphs" font-size="44">i</text>
<text x="1115.60" y="464.7" textLength="18.72" lengthAdjust="spacingAndGlyphs" font-size="44">s</text>
<text x="1134.40" y="464.7" textLength="18.62" lengthAdjust="spacingAndGlyphs" font-size="44">t</text>
<text x="1153.20" y="464.7" textLength="21.76" lengthAdjust="spacingAndGlyphs" font-size="44">r</text>
<text x="1172.30" y="464.7" textLength="13.30" lengthAdjust="spacingAndGlyphs" font-size="44">i</text>
<text x="1186.10" y="464.7" textLength="29.83" lengthAdjust="spacingAndGlyphs" font-size="44">b</text>
<text x="1216.80" y="464.7" textLength="29.55" lengthAdjust="spacingAndGlyphs" font-size="44">u</text>
<text x="1245.50" y="464.7" textLength="17.64" lengthAdjust="spacingAndGlyphs" font-size="44">t</text>
<text x="1262.60" y="464.7" textLength="23.72" lengthAdjust="spacingAndGlyphs" font-size="44">e</text>
<text x="1354.20" y="464.6" textLength="41.34" lengthAdjust="spacingAndGlyphs" font-size="44">W</text>
<text x="1395.30" y="464.6" textLength="21.47" lengthAdjust="spacingAndGlyphs" font-size="44">a</text>
<text x="1420.70" y="464.6" textLength="15.67" lengthAdjust="spacingAndGlyphs" font-size="44">t</text>
<text x="1437.25" y="464.6" textLength="23.04" lengthAdjust="spacingAndGlyphs" font-size="44">c</text>
<text x="1461.30" y="464.6" textLength="26.92" lengthAdjust="spacingAndGlyphs" font-size="44">h</text>
</g>
<g fill="#0a88d4" font-family="Liberation Sans, sans-serif" font-weight="bold" font-size="92" filter="url(#tsh)">
<text x="87.50" y="183" textLength="65.36" lengthAdjust="spacingAndGlyphs">A</text>
<text x="175.25" y="183" textLength="73.81" lengthAdjust="spacingAndGlyphs">Q</text>
<text x="244.00" y="183" textLength="62.61" lengthAdjust="spacingAndGlyphs">u</text>
<text x="303.40" y="183" textLength="27.09" lengthAdjust="spacingAndGlyphs">ı</text>
<text x="331.00" y="183" textLength="51.18" lengthAdjust="spacingAndGlyphs">c</text>
<text x="381.50" y="183" textLength="47.77" lengthAdjust="spacingAndGlyphs">k</text>
<text x="455.25" y="183" textLength="68.13" lengthAdjust="spacingAndGlyphs">G</text>
<text x="519.00" y="183" textLength="62.61" lengthAdjust="spacingAndGlyphs">u</text>
<text x="576.10" y="183" textLength="27.09" lengthAdjust="spacingAndGlyphs">ı</text>
<text x="602.75" y="183" textLength="56.21" lengthAdjust="spacingAndGlyphs">d</text>
<text x="656.00" y="183" textLength="54.67" lengthAdjust="spacingAndGlyphs">e</text>
<text x="734.75" y="183" textLength="37.02" lengthAdjust="spacingAndGlyphs">t</text>
<text x="771.00" y="183" textLength="57.35" lengthAdjust="spacingAndGlyphs">o</text>
<text x="853.25" y="183" textLength="47.83" lengthAdjust="spacingAndGlyphs">L</text>
<text x="900.60" y="183" textLength="25.08" lengthAdjust="spacingAndGlyphs">ı</text>
<text x="925.75" y="183" textLength="52.20" lengthAdjust="spacingAndGlyphs">v</text>
<text x="973.50" y="183" textLength="55.86" lengthAdjust="spacingAndGlyphs">e</text>
<text x="1053.75" y="183" textLength="49.11" lengthAdjust="spacingAndGlyphs">S</text>
<text x="1104.00" y="183" textLength="33.82" lengthAdjust="spacingAndGlyphs">t</text>
<text x="1134.50" y="183" textLength="46.06" lengthAdjust="spacingAndGlyphs">r</text>
<text x="1176.00" y="183" textLength="54.67" lengthAdjust="spacingAndGlyphs">e</text>
<text x="1235.50" y="183" textLength="44.94" lengthAdjust="spacingAndGlyphs">a</text>
<text x="1287.25" y="183" textLength="88.83" lengthAdjust="spacingAndGlyphs">m</text>
<text x="1373.00" y="183" textLength="26.52" lengthAdjust="spacingAndGlyphs">ı</text>
<text x="1402.25" y="183" textLength="60.07" lengthAdjust="spacingAndGlyphs">n</text>
<text x="1462.75" y="183" textLength="51.33" lengthAdjust="spacingAndGlyphs">g</text>
<ellipse cx="316" cy="122.1" rx="7.1" ry="6.6"/><ellipse cx="589" cy="122.1" rx="7.1" ry="6.6"/><ellipse cx="913.8" cy="122.1" rx="7.1" ry="6.6"/><ellipse cx="1386.3" cy="122.1" rx="7.1" ry="6.6"/>
</g>
</svg>
</body></html>
